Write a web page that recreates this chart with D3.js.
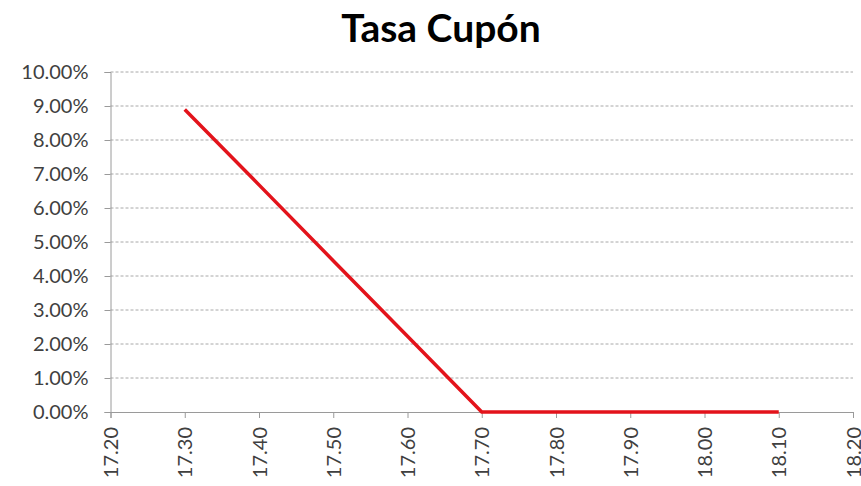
<!DOCTYPE html>
<html><head><meta charset="utf-8">
<script src="https://cdn.jsdelivr.net/npm/d3@7"></script>
<style>body{margin:0;background:#fff;} svg{display:block;}</style>
</head><body>
<script>
const title = "Tasa Cupón";
const xValues = [17.30, 17.40, 17.50, 17.60, 17.70, 17.80, 17.90, 18.00, 18.10];
const yValues = [0.0890, 0.0668, 0.0445, 0.0223, 0.0000, 0.0000, 0.0000, 0.0000, 0.0000];
const xTicks = [17.20, 17.30, 17.40, 17.50, 17.60, 17.70, 17.80, 17.90, 18.00, 18.10, 18.20];
const yTicks = [0, 0.01, 0.02, 0.03, 0.04, 0.05, 0.06, 0.07, 0.08, 0.09, 0.10];

const W = 861, H = 486;
const svg = d3.select("body").append("svg").attr("width", W).attr("height", H);
const font = "Lato, 'Open Sans', sans-serif";

const x = d3.scaleLinear().domain([17.20, 18.20]).range([110.5, 853]);
const y = d3.scaleLinear().domain([0, 0.10]).range([412, 72]);

// gridlines
svg.append("g").selectAll("line").data(yTicks.filter(d => d > 0)).join("line")
  .attr("x1", x(17.20)).attr("x2", x(18.20))
  .attr("y1", d => y(d)).attr("y2", d => y(d))
  .attr("stroke", "#a8a8a8").attr("stroke-width", 1).attr("stroke-dasharray", "3,2");

// y axis
const yAxis = svg.append("g").attr("transform", `translate(${x(17.20)},0)`)
  .call(d3.axisLeft(y).tickValues(yTicks).tickFormat(d3.format(".2%")).tickSize(6).tickPadding(16));
yAxis.select(".domain").attr("stroke", "#9a9a9a");
yAxis.selectAll(".tick line").attr("stroke", "#9a9a9a");
yAxis.selectAll("text").attr("font-family", font).attr("font-size", 20).attr("fill", "#404040");

// x axis
const xAxis = svg.append("g").attr("transform", `translate(0,${y(0)})`)
  .call(d3.axisBottom(x).tickValues(xTicks).tickFormat(d3.format(".2f")).tickSize(6));
xAxis.select(".domain").attr("stroke", "#9a9a9a");
xAxis.selectAll(".tick line").attr("stroke", "#9a9a9a");
xAxis.selectAll("text")
  .attr("font-family", font).attr("font-size", 20).attr("fill", "#404040")
  .attr("transform", "rotate(-90)")
  .attr("text-anchor", "end")
  .attr("x", -15).attr("y", 0).attr("dy", "0.35em");

// line
const line = d3.line().x((d, i) => x(xValues[i])).y(d => y(d));
svg.append("path").datum(yValues)
  .attr("d", line)
  .attr("fill", "none").attr("stroke", "#e3131b").attr("stroke-width", 3.5)
  .attr("stroke-linejoin", "round");

// title
svg.append("text").attr("x", 441).attr("y", 42).attr("text-anchor", "middle")
  .attr("font-family", font).attr("font-weight", "bold").attr("font-size", 39)
  .attr("fill", "#000").text(title);
</script>
</body></html>
